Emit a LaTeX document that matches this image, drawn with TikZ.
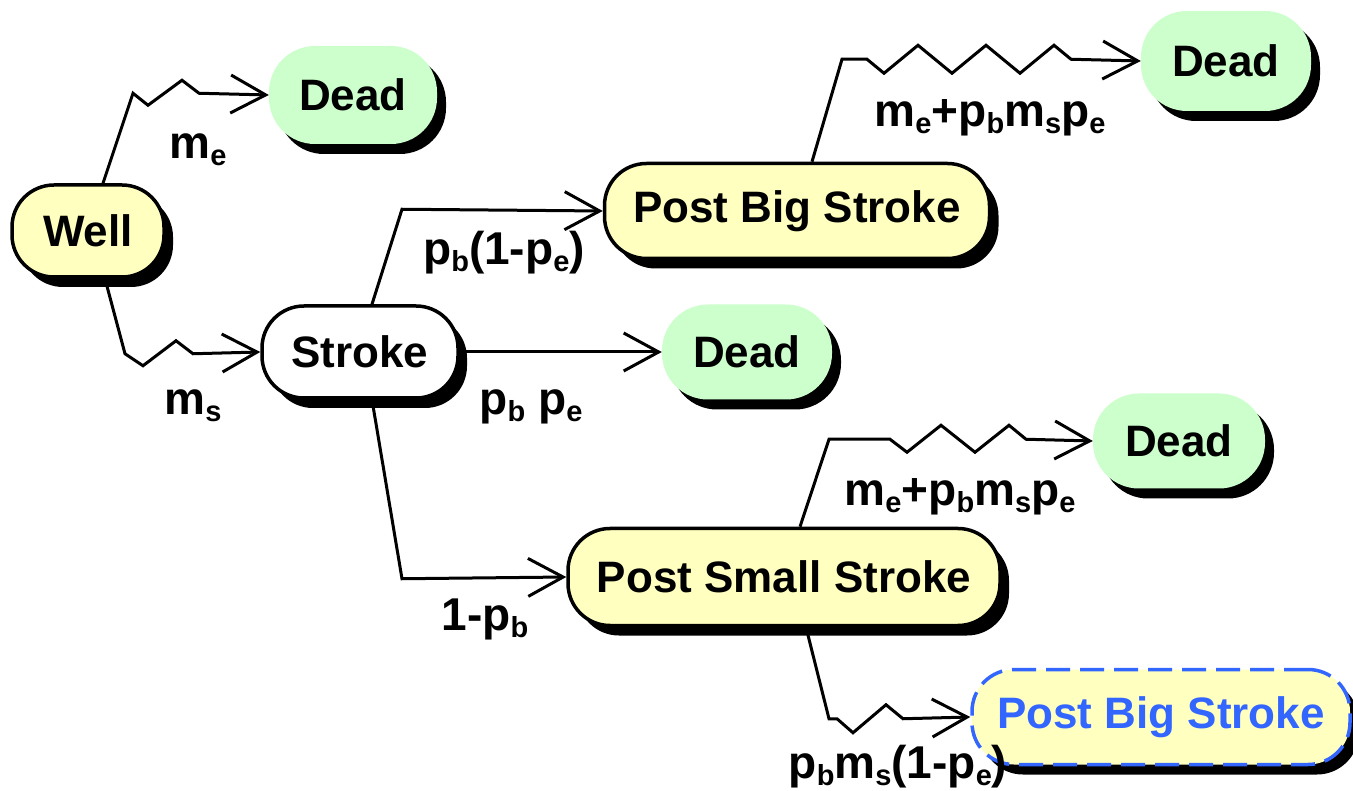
\documentclass[tikz,border=0pt]{standalone}
\usepackage{fontspec}
\setmainfont{Liberation Sans}
\usetikzlibrary{arrows.meta,shadows}
\definecolor{paleyellow}{RGB}{255,255,192}
\definecolor{palegreen}{RGB}{204,255,204}
\definecolor{linkblue}{RGB}{51,102,255}
% lowered, smaller subscript for the transition rates
\newcommand\sbx[1]{\raisebox{-7pt}{\fontsize{29}{29}\selectfont #1}}

\begin{document}
\begin{tikzpicture}[x=1pt,y=-1pt,
  state/.style={rectangle, inner sep=0pt,
    font=\fontsize{44}{50}\selectfont\bfseries,
    drop shadow={shadow xshift=9pt,shadow yshift=-10pt,fill=black,opacity=1}},
  livebox/.style={state, rounded corners=42pt, draw=black, line width=3.5pt, fill=paleyellow},
  strokebox/.style={state, rounded corners=42pt, draw=black, line width=3.5pt, fill=white},
  deadbox/.style={state, rounded corners=46pt, fill=palegreen},
  tunnelbox/.style={state, rounded corners=42pt, draw=linkblue, line width=3.5pt,
    dash pattern=on 24pt off 10pt, fill=paleyellow, text=linkblue},
  conn/.style={line width=3pt, -{Straight Barb[length=35pt,width=38pt]}},
  lbl/.style={anchor=base, inner sep=0pt, font=\fontsize{46}{50}\selectfont\bfseries}]

\useasboundingbox (0,0) rectangle (1353,791);

% states
\node[livebox, minimum width=152pt, minimum height=92pt] (well) at (88,231) {Well};
\node[deadbox, minimum width=168pt, minimum height=98pt] (dead1) at (353,95) {Dead};
\node[strokebox, minimum width=196pt, minimum height=92pt] (stroke) at (360,352) {Stroke};
\node[livebox, minimum width=385pt, minimum height=95pt] (pbs) at (797,211) {Post Big Stroke};
\node[deadbox, minimum width=170pt, minimum height=95pt] (dead2) at (747,352) {Dead};
\node[deadbox, minimum width=170pt, minimum height=100pt] (dead3) at (1226,61) {Dead};
\node[deadbox, minimum width=172pt, minimum height=95pt] (dead4) at (1179,441) {Dead};
\node[livebox, minimum width=432pt, minimum height=97pt] (pss) at (784,577) {Post Small Stroke};
\node[tunnelbox, minimum width=378pt, minimum height=95pt] (pbs2) at (1161,717) {Post Big Stroke};

% transitions
\draw[conn] ([xshift=15pt]well.north) -- ++(30,-90) -- ++(15,12) -- ++(34,-25)
  -- ++(17,13) -- (dead1.west);
\draw[conn] ([xshift=17pt]well.south) -- ++(20,75) -- ++(18,12) -- ++(33,-25)
  -- ++(17,13) -- (stroke.west);
\draw[conn] ([xshift=12pt]stroke.north) -- ++(30,-95) -- (pbs.west);
\draw[conn] (stroke.east) -- (dead2.west);
\draw[conn] ([xshift=12pt]stroke.south) -- ++(30,179) -- (pss.west);
\draw[conn] ([xshift=15pt]pbs.north) -- ++(30,-102.5) -- ++(25,0) -- ++(17,14)
  -- ++(34,-28) -- ++(34,28) -- ++(34,-28) -- ++(34,28) -- ++(34,-28)
  -- ++(17,14) -- (dead3.west);
\draw[conn] ([xshift=16pt]pss.north) -- ++(29,-87.5) -- ++(61,0) -- ++(17,13)
  -- ++(34,-27) -- ++(34,27) -- ++(34,-27) -- ++(17,14) -- (dead4.west);
\draw[conn] ([xshift=22pt]pss.south) -- ++(23,91.5) -- ++(8,0) -- ++(16,14)
  -- ++(33,-28) -- ++(17,14) -- (pbs2.west);

% rates
\node[lbl] (l1) at (198,159) {m\sbx{e}};
\node[lbl] (l2) at (193,415) {m\sbx{s}};
\node[lbl] (l3) at (504,265) {p\sbx{b}(1-p\sbx{e})};
\node[lbl] (l4) at (531,415) {p\sbx{b} p\sbx{e}};
\node[lbl] (l5) at (485,630) {1-p\sbx{b}};
\node[lbl] (l6) at (990,127) {m\sbx{e}+p\sbx{b}m\sbx{s}p\sbx{e}};
\node[lbl] (l7) at (960,506) {m\sbx{e}+p\sbx{b}m\sbx{s}p\sbx{e}};
\node[lbl] (l8) at (898,778) {p\sbx{b}m\sbx{s}(1-p\sbx{e})};
\end{tikzpicture}
\end{document}
